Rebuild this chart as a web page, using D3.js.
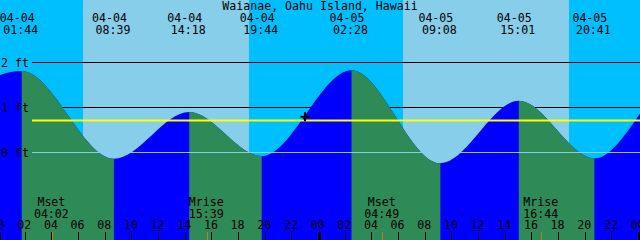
<!DOCTYPE html>
<html><head><meta charset="utf-8">
<script src="https://cdn.jsdelivr.net/npm/d3@7"></script>
<style>html,body{margin:0;padding:0;background:#00BFFF;overflow:hidden}svg{display:block}</style>
</head><body><svg id="c" width="640" height="240"></svg>
<script>
const title = "Waianae, Oahu Island, Hawaii";
// tide extremes, hours from 04-04 00:00 (first and last two lie off-chart)
const tideTimes   = [-7.1, 1.733, 8.65, 14.3, 19.733, 26.467, 33.133, 39.017, 44.683, 51.37, 57.5];
const tideHeights = [-0.10, 1.81, -0.14, 0.90, -0.08, 1.83, -0.24, 1.15, -0.13, 1.80, -0.10];
// labelled extremes (top)
const labelTimes = [1.733, 8.65, 14.3, 19.733, 26.467, 33.133, 39.017, 44.683];
const labelDates = ["04-04","04-04","04-04","04-04","04-05","04-05","04-05","04-05"];
const labelClock = ["01:44","08:39","14:18","19:44","02:28","09:08","15:01","20:41"];
// sun
const sunrise = [6.33, 30.33];
const sunset  = [18.78, 42.78];
// moon events
const moonTimes = [4.033, 15.65, 28.817, 40.733];
const moonNames = ["Mset","Mrise","Mset","Mrise"];
const moonClock = ["04:02","15:39","04:49","16:44"];
// depth grid
const depthTicks = [0, 1, 2];
const depthLabels = ["0 ft","1 ft","2 ft"];
const mslHeight = 0.71;
// current-time marker
const markerTime = 22.98, markerHeight = 0.796;
// hour ticks
const hourTicks = d3.range(0, 49, 2);

const W = 640, H = 240;
const FONT = "'DejaVu Sans Mono', monospace";
const FS = "11.6px";
const x = d3.scaleLinear().domain([0, 48]).range([-1.4, 638.6]);
const y = d3.scaleLinear().domain([0, 2]).range([152.5, 62.5]);

const svg = d3.select("#c");
// background night
svg.append("rect").attr("width", W).attr("height", H).attr("fill", "#00BFFF");
// day
svg.append("g").selectAll("rect").data(sunrise).join("rect")
  .attr("x", (d) => x(d)).attr("y", 0)
  .attr("width", (d, i) => x(sunset[i]) - x(d)).attr("height", H)
  .attr("fill", "#87CEEB");

// black depth lines (behind water)
svg.append("g").selectAll("line").data(depthTicks.filter(d => d !== 0)).join("line")
  .attr("x1", 32).attr("x2", W).attr("y1", d => y(d)).attr("y2", d => y(d))
  .attr("stroke", "#000").attr("stroke-width", 1).attr("shape-rendering", "crispEdges");

// water
const pts = tideTimes.map((t, i) => [t, tideHeights[i]]);
const area = d3.area().x(d => x(d[0])).y0(H).y1(d => y(d[1])).curve(d3.curveMonotoneX);
svg.append("path").attr("d", area(pts)).attr("fill", "#0000FF");
const defs = svg.append("defs");
const falling = [];
for (let i = 0; i < tideTimes.length - 1; i++) {
  if (tideHeights[i + 1] < tideHeights[i]) falling.push([tideTimes[i], tideTimes[i + 1]]);
}
const cp = defs.append("clipPath").attr("id", "fall");
cp.selectAll("rect").data(falling).join("rect")
  .attr("x", d => x(d[0])).attr("y", 0).attr("width", d => x(d[1]) - x(d[0])).attr("height", H);
svg.append("path").attr("d", area(pts)).attr("fill", "#2E8B57").attr("clip-path", "url(#fall)");

// datum and msl lines
svg.append("line").attr("x1", 32).attr("x2", W).attr("y1", y(0)).attr("y2", y(0))
  .attr("stroke", "#87CEEB").attr("stroke-width", 1).attr("shape-rendering", "crispEdges");
svg.append("line").attr("x1", 32).attr("x2", W).attr("y1", y(mslHeight)).attr("y2", y(mslHeight))
  .attr("stroke", "#FFFF00").attr("stroke-width", 2);

// marker
const mx = x(markerTime), my = y(markerHeight);
svg.append("path").attr("d", `M${mx - 4.5},${my}H${mx + 4.5}M${mx},${my - 4.5}V${my + 4.5}`)
  .attr("stroke", "#000").attr("stroke-width", 2).attr("fill", "none");

const txt = svg.append("g").attr("font-family", FONT).attr("font-size", FS).attr("fill", "#000");
// title
txt.append("text").attr("x", W / 2).attr("y", 10).attr("text-anchor", "middle").text(title);
// extreme labels
labelTimes.forEach((t, i) => {
  txt.append("text").attr("x", x(t) - 4.5).attr("y", 21.5).attr("text-anchor", "middle").text(labelDates[i]);
  txt.append("text").attr("x", x(t) - 1).attr("y", 34).attr("text-anchor", "middle").text(labelClock[i]);
});
// depth labels
depthTicks.forEach((d, i) => {
  txt.append("text").attr("x", 1).attr("y", y(d) + 4.3).text(depthLabels[i]);
});
// moon labels
moonTimes.forEach((t, i) => {
  txt.append("text").attr("x", x(t) - 1).attr("y", 206).attr("text-anchor", "middle").text(moonNames[i]);
  txt.append("text").attr("x", x(t) - 1).attr("y", 217.7).attr("text-anchor", "middle").text(moonClock[i]);
});
// hour labels
hourTicks.forEach(h => {
  txt.append("text").attr("x", x(h) - 1).attr("y", 229.3).attr("text-anchor", "middle")
    .text(d3.format("02d")(h % 24));
});
// ticks
const tk = svg.append("g").attr("shape-rendering", "crispEdges");
hourTicks.forEach(h => {
  const midnight = h % 24 === 0;
  tk.append("rect").attr("x", midnight ? Math.round(x(h)) - 1.5 : Math.floor(x(h)))
    .attr("y", 232).attr("width", midnight ? 3 : 1).attr("height", 8).attr("fill", "#000");
});
moonTimes.forEach(t => {
  tk.append("rect").attr("x", Math.floor(x(t))).attr("y", 232).attr("width", 1).attr("height", 8).attr("fill", "#B8860B");
});
</script></body></html>
